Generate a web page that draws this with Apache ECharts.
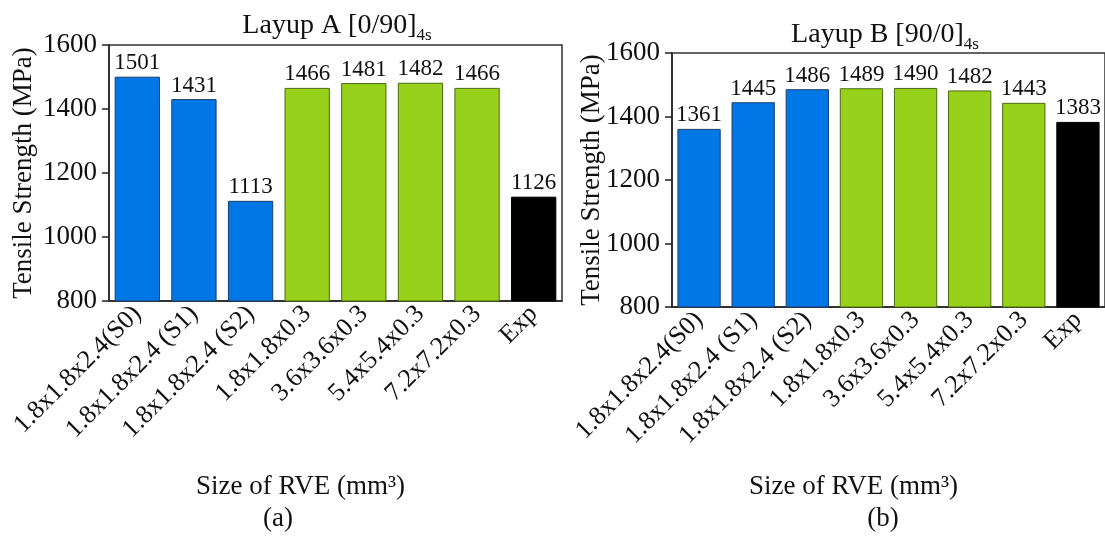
<!DOCTYPE html>
<html>
<head>
<meta charset="utf-8">
<script src="https://cdn.jsdelivr.net/npm/echarts@6/dist/echarts.min.js"></script>
<style>
html,body{margin:0;padding:0;background:#fff;}
#c{width:1105px;height:540px;}
</style>
</head>
<body>
<div id="c"></div>
<script>
const categories = ['1.8x1.8x2.4(S0)', '1.8x1.8x2.4 (S1)', '1.8x1.8x2.4 (S2)', '1.8x1.8x0.3', '3.6x3.6x0.3', '5.4x5.4x0.3', '7.2x7.2x0.3', 'Exp'];
const groups = ['size', 'size', 'size', 'rve', 'rve', 'rve', 'rve', 'exp'];
const valuesA = [1501, 1431, 1113, 1466, 1481, 1482, 1466, 1126];
const valuesB = [1361, 1445, 1486, 1489, 1490, 1482, 1443, 1383];
const yTicks = [800, 1000, 1200, 1400, 1600];
const titleA = ['Layup A [0/90]', '4s'];
const titleB = ['Layup B [90/0]', '4s'];
const yName = 'Tensile Strength (MPa)';
const xName = 'Size of RVE (mm\u00B3)';
const panelTags = ['(a)', '(b)'];

const FONT = "'Liberation Serif', serif";
const groupColor = { size: '#0077E6', rve: '#98D11C', exp: '#000000' };
const groupBorder = { size: '#1d3f66', rve: '#4a6a10', exp: '#000000' };

function barData(vals) {
  return vals.map((v, i) => ({
    value: v,
    itemStyle: { color: groupColor[groups[i]], borderColor: groupBorder[groups[i]], borderWidth: 1 }
  }));
}

function xAxis(gi, gap) {
  return {
    type: 'category', gridIndex: gi, data: categories,
    axisLine: { lineStyle: { color: '#222', width: 1.5 } },
    axisTick: { alignWithLabel: true, length: 7, lineStyle: { color: '#222', width: 1.5 } },
    axisLabel: { rotate: 45, fontFamily: FONT, fontSize: 26, color: '#111', margin: 9, interval: 0 },
    name: xName, nameLocation: 'middle', nameGap: gap, nameMoveOverlap: false,
    nameTextStyle: { fontFamily: FONT, fontSize: 27, color: '#111', padding: [0, 70, 0, 0] }
  };
}
function yAxis(gi, gap) {
  return {
    type: 'value', gridIndex: gi, min: yTicks[0], max: yTicks[yTicks.length - 1], interval: 200,
    axisLine: { show: true, lineStyle: { color: '#222', width: 1.5 } },
    axisTick: { show: true, length: 7, lineStyle: { color: '#222', width: 1.5 } },
    splitLine: { show: false },
    axisLabel: { fontFamily: FONT, fontSize: 27, color: '#111', margin: 12, formatter: v => String(v) },
    name: yName, nameLocation: 'middle', nameGap: gap, nameRotate: 90, nameMoveOverlap: false,
    nameTextStyle: { fontFamily: FONT, fontSize: 27, color: '#111' }
  };
}
function title(t, left, top) {
  return {
    text: '{a|' + t[0] + '}{s|' + t[1] + '}', left: left, top: top, textAlign: 'center',
    textStyle: {
      rich: {
        a: { fontFamily: FONT, fontSize: 28, fontWeight: 'normal', color: '#111', verticalAlign: 'top', lineHeight: 34 },
        s: { fontFamily: FONT, fontSize: 17, fontWeight: 'normal', color: '#111', verticalAlign: 'top', lineHeight: 20, padding: [15, 0, 0, 0] }
      }
    }
  };
}
function series(vals, gi) {
  return {
    type: 'bar', xAxisIndex: gi, yAxisIndex: gi, data: barData(vals), barCategoryGap: '20%',
    label: { show: true, position: 'top', distance: 2, fontFamily: FONT, fontSize: 23, color: '#111' }
  };
}

const chart = echarts.init(document.getElementById('c'), null, { renderer: 'canvas' });
chart.setOption({
  backgroundColor: '#fff',
  animation: false,
  title: [
    title(titleA, 332, 7),
    title(titleB, 880, 16),
    { text: panelTags[0], left: 273, top: 500, textAlign: 'center', textStyle: { fontFamily: FONT, fontSize: 27, fontWeight: 'normal', color: '#111' } },
    { text: panelTags[1], left: 878, top: 500, textAlign: 'center', textStyle: { fontFamily: FONT, fontSize: 27, fontWeight: 'normal', color: '#111' } }
  ],
  grid: [
    { left: 109, right: 543, top: 45, bottom: 239, show: true, borderColor: '#333', borderWidth: 1.5, backgroundColor: 'transparent' },
    { left: 672, right: -2, top: 53, bottom: 233, show: true, borderColor: '#333', borderWidth: 1.5, backgroundColor: 'transparent' }
  ],
  xAxis: [xAxis(0, 172), xAxis(1, 166)],
  yAxis: [yAxis(0, 72), yAxis(1, 67)],
  series: [series(valuesA, 0), series(valuesB, 1)]
});
</script>
</body>
</html>
